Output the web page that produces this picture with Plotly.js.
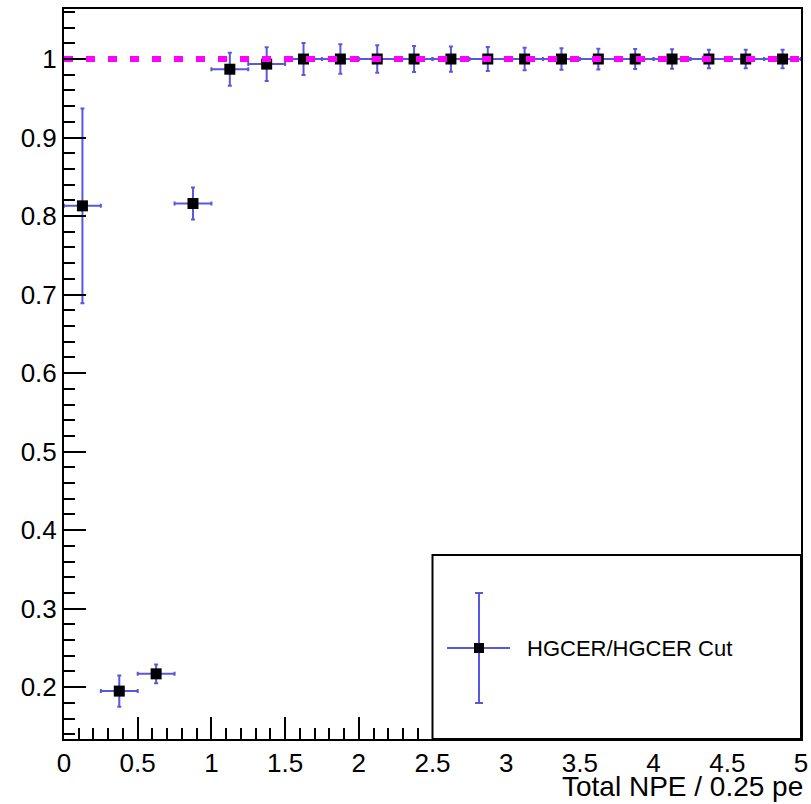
<!DOCTYPE html>
<html>
<head>
<meta charset="utf-8">
<script src="https://cdn.plot.ly/plotly-3.0.1.min.js"></script>
<style>html,body{margin:0;padding:0;background:#fff;}#chart{width:811px;height:804px;}</style>
</head>
<body>
<div id="chart"></div>
<script>
// Bin centres (Total NPE, 0.25 pe bins)
const binCenters = [0.125,0.375,0.625,0.875,1.125,1.375,1.625,1.875,2.125,2.375,2.625,2.875,3.125,3.375,3.625,3.875,4.125,4.375,4.625,4.875];
const binHalfWidth = [0.125,0.125,0.125,0.125,0.125,0.125,0.125,0.125,0.125,0.125,0.125,0.125,0.125,0.125,0.125,0.125,0.125,0.125,0.125,0.125];
// Efficiency values HGCER / HGCER Cut
const efficiency = [0.813,0.195,0.217,0.816,0.987,0.9935,1.0,1.0,1.0,1.0,1.0,1.0,1.0,1.0,1.0,1.0,1.0,1.0,1.0,1.0];
const effError = [0.124,0.020,0.012,0.0204,0.021,0.0215,0.0204,0.0187,0.0174,0.0166,0.0161,0.0153,0.0144,0.0136,0.0132,0.0127,0.0123,0.0119,0.0119,0.0119];
// Constant fit line
const fitX = [0, 5];
const fitY = [1, 1];
const seriesName = "HGCER/HGCER Cut";
const xTitle = "Total NPE / 0.25 pe";

const errColor = "rgb(88,88,222)";
const font = "Liberation Sans, Arial, Helvetica, sans-serif";

const data = [
  {
    type: "scatter", mode: "markers", x: binCenters, y: efficiency, name: seriesName,
    marker: {symbol: "square", size: 11, color: "black"},
    error_x: {type: "data", array: binHalfWidth, visible: true, color: errColor, thickness: 2, width: 2},
    error_y: {type: "data", array: effError, visible: true, color: errColor, thickness: 2, width: 2},
    cliponaxis: true, showlegend: false
  },
  {
    type: "scatter", mode: "lines", x: fitX, y: fitY, name: "fit",
    line: {color: "#ff00ff", width: 6, dash: "9px,13px"}, showlegend: false
  }
];

const axisCommon = {
  showgrid: false, zeroline: false, showline: true, linecolor: "black", linewidth: 2, mirror: true,
  ticks: "inside", tickcolor: "black", tickwidth: 2, ticklen: 22,
  tickfont: {family: font, size: 26, color: "black"}
};

const lx = (p) => (p - 64) / 737;   // pixel -> paper x
const ly = (p) => (739 - p) / 730;  // pixel -> paper y
const leg = {x0: lx(447), x1: lx(510), xc: lx(479), yc: ly(648), yt: ly(593), yb: ly(703)};
const capW = 4 / 737;

const layout = {
  width: 811, height: 804,
  margin: {l: 64, r: 10, t: 9, b: 65},
  paper_bgcolor: "white", plot_bgcolor: "white",
  showlegend: false,
  xaxis: Object.assign({}, axisCommon, {
    range: [0, 5], dtick: 0.5, tick0: 0,
    minor: {dtick: 0.1, ticklen: 11, ticks: "inside", tickcolor: "black", tickwidth: 2}
  }),
  yaxis: Object.assign({}, axisCommon, {
    range: [0.134, 1.0637], dtick: 0.1, tick0: 0,
    minor: {dtick: 0.02, ticklen: 11, ticks: "inside", tickcolor: "black", tickwidth: 2}
  }),
  shapes: [
    {type: "rect", xref: "x", yref: "paper", x0: 2.5, x1: 5, y0: 0, y1: ly(555), line: {color: "black", width: 2}, fillcolor: "white", layer: "above"},
    {type: "line", xref: "paper", yref: "paper", x0: leg.x0, x1: leg.x1, y0: leg.yc, y1: leg.yc, line: {color: errColor, width: 2}},
    {type: "line", xref: "paper", yref: "paper", x0: leg.xc, x1: leg.xc, y0: leg.yb, y1: leg.yt, line: {color: errColor, width: 2}},
    {type: "line", xref: "paper", yref: "paper", x0: leg.xc - capW, x1: leg.xc + capW, y0: leg.yt, y1: leg.yt, line: {color: errColor, width: 2}},
    {type: "line", xref: "paper", yref: "paper", x0: leg.xc - capW, x1: leg.xc + capW, y0: leg.yb, y1: leg.yb, line: {color: errColor, width: 2}},
    {type: "rect", xref: "paper", yref: "paper", x0: leg.xc - 5/737, x1: leg.xc + 5/737, y0: leg.yc - 5/730, y1: leg.yc + 5/730, line: {width: 0}, fillcolor: "black"}
  ],
  annotations: [
    {text: seriesName, xref: "paper", yref: "paper", x: lx(525), y: leg.yc, xanchor: "left", yanchor: "middle", showarrow: false, font: {family: font, size: 22, color: "black"}},
    {text: xTitle, xref: "paper", yref: "paper", x: 1, y: 0, xanchor: "right", yanchor: "top", xshift: 4, yshift: -30, showarrow: false, font: {family: font, size: 28, color: "black"}}
  ]
};

Plotly.newPlot("chart", data, layout, {displayModeBar: false, staticPlot: true});
</script>
</body>
</html>
